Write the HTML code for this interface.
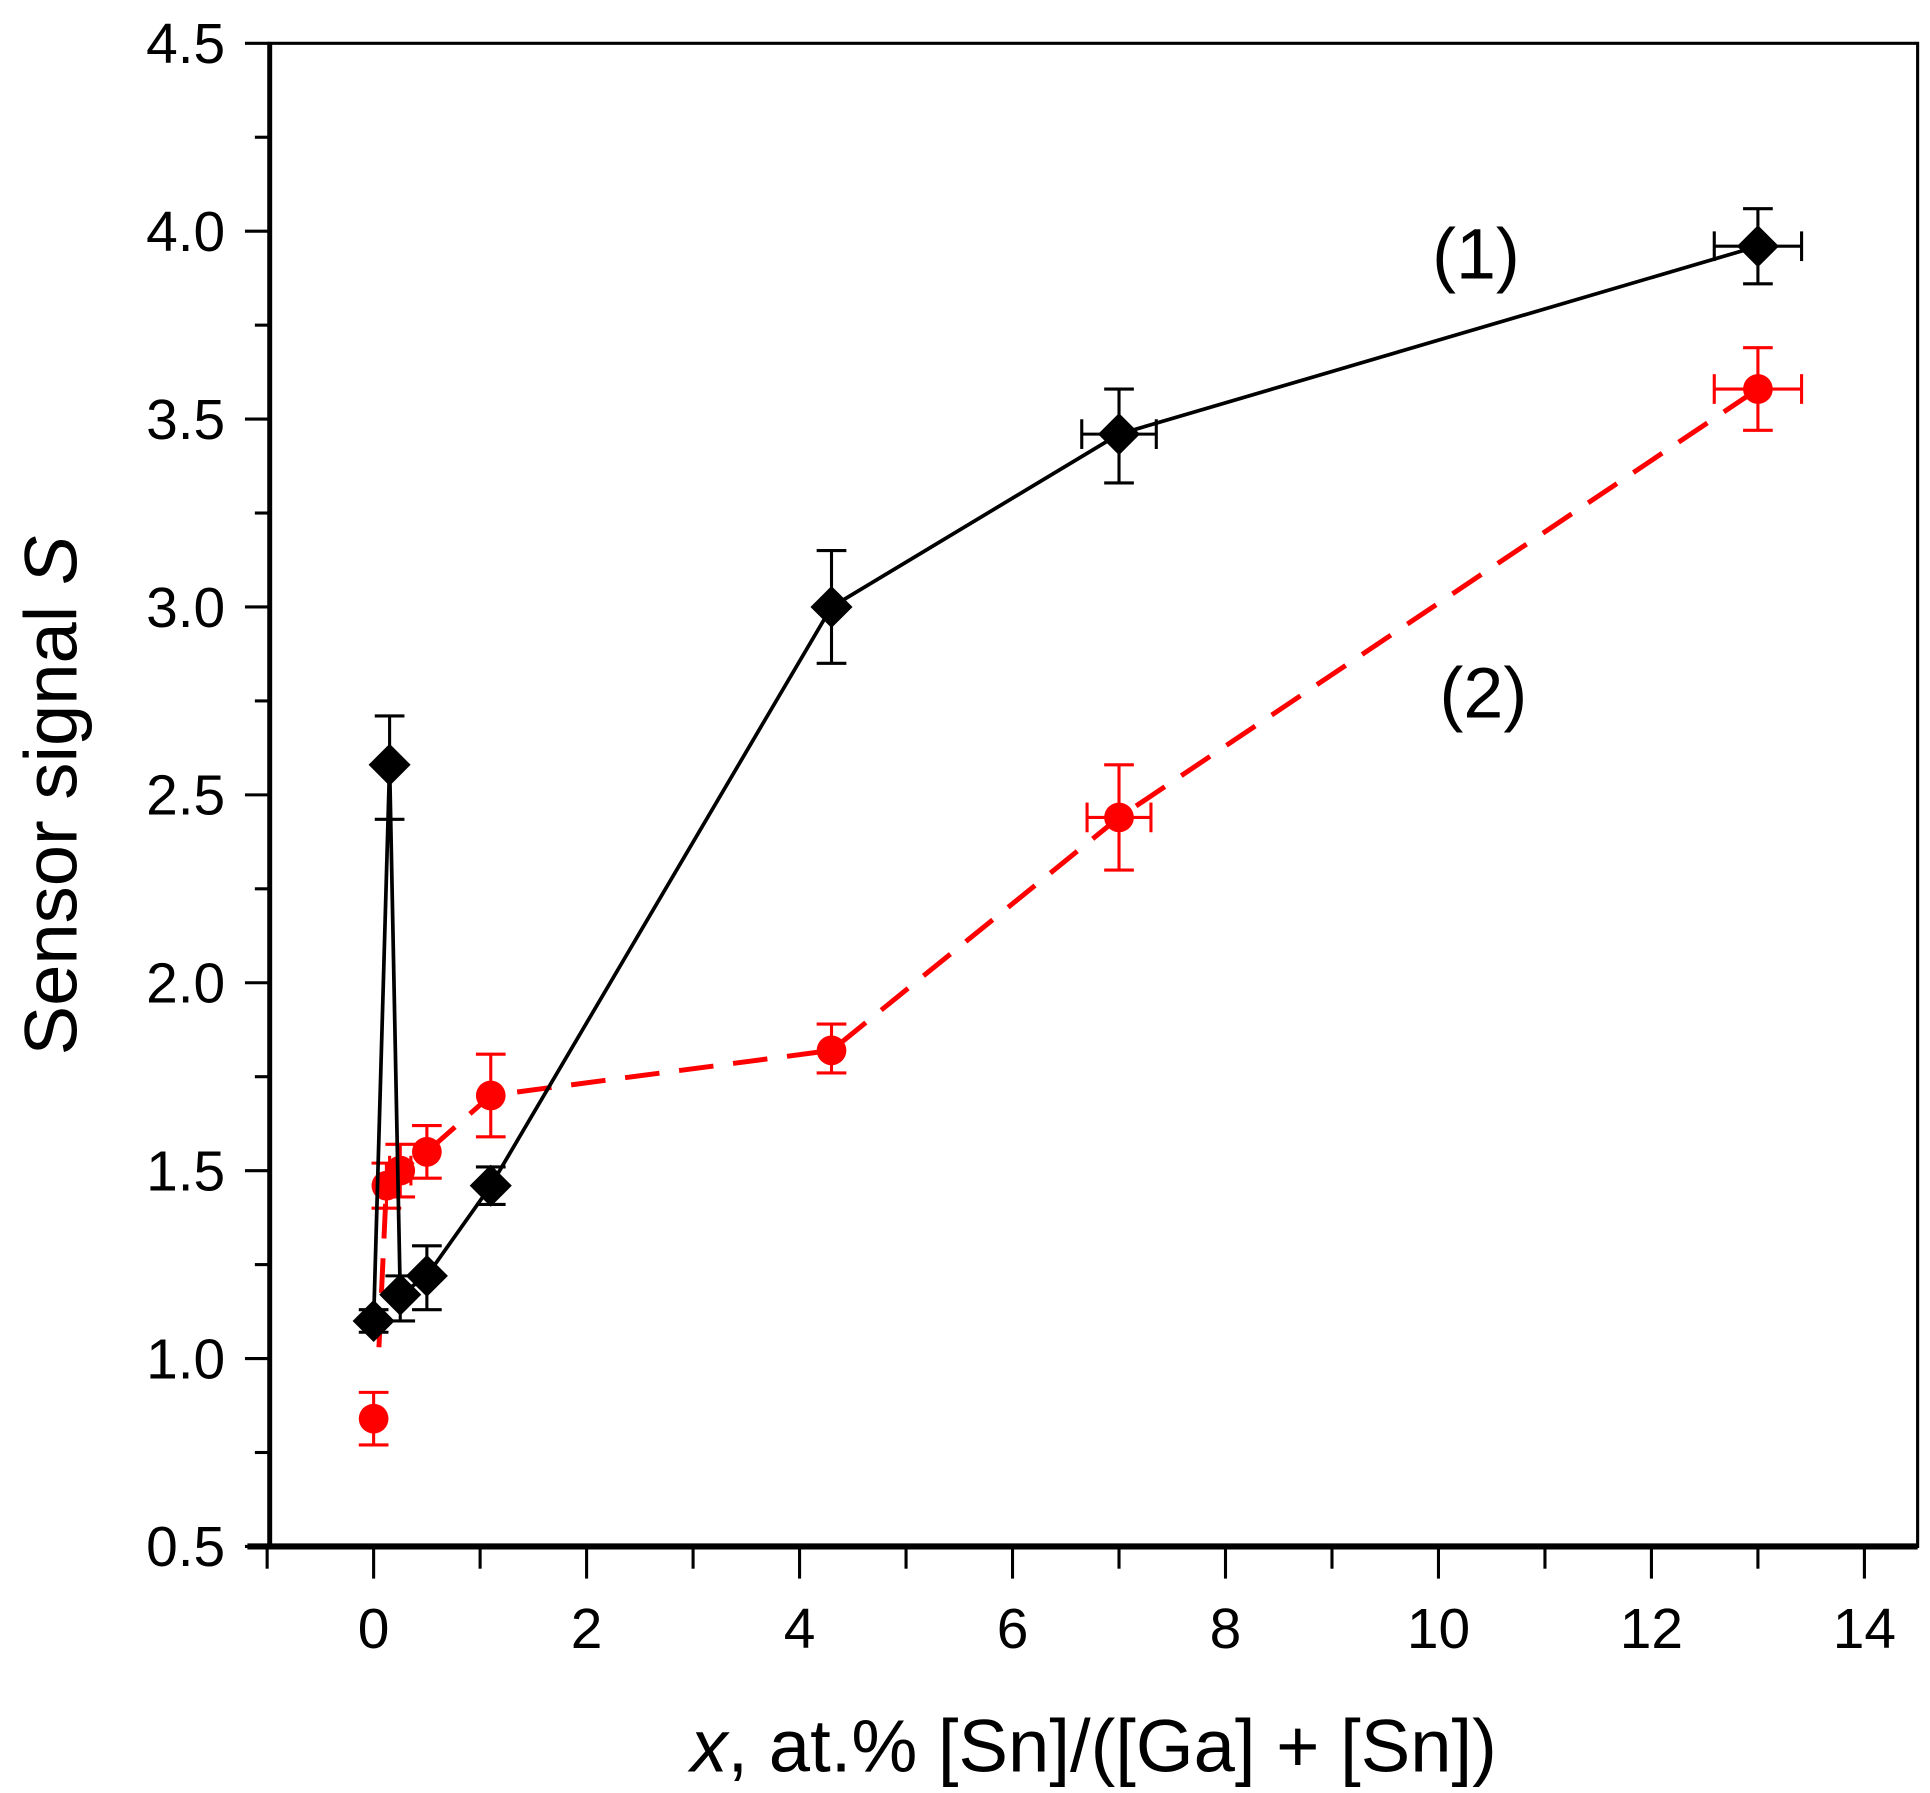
<!DOCTYPE html>
<html><head><meta charset="utf-8"><style>
html,body{margin:0;padding:0;background:#fff;}
svg{display:block;}
text{font-family:"Liberation Sans",Arial,sans-serif;fill:#000;}
</style></head><body>
<svg id="s" width="1930" height="1793" viewBox="0 0 1560 1449.3" preserveAspectRatio="none" xmlns="http://www.w3.org/2000/svg">
<rect x="218" y="35" width="1332" height="1215" fill="none" stroke="#000" stroke-width="2.5"/>
<line x1="200" y1="1250" x2="1550" y2="1250" stroke="#000" stroke-width="5"/>
<line x1="218" y1="35" x2="218" y2="1252" stroke="#000" stroke-width="4"/>
<g id="ticks"></g>
<g font-size="46" text-anchor="end" id="ylab"></g>
<g font-size="46" text-anchor="middle" id="xlab"></g>
<text x="0" y="0" font-size="60" text-anchor="middle" transform="translate(62,643) rotate(-90)">Sensor signal <tspan font-style="italic">S</tspan></text>
<text x="884" y="1432" font-size="60" text-anchor="middle"><tspan font-style="italic">x</tspan>, at.% [Sn]/([Ga] + [Sn])</text>
<text x="1193" y="225" font-size="58" text-anchor="middle">(1)</text>
<text x="1199" y="580" font-size="58" text-anchor="middle">(2)</text>
<g id="data"></g>
</svg>
<script>
var NS="http://www.w3.org/2000/svg";
function X(x){return 302+86.07*x;}
function Y(y){return 35+(4.5-y)*303.75;}
function el(p,t,a,txt){var e=document.createElementNS(NS,t);for(var k in a)e.setAttribute(k,a[k]);if(txt!=null)e.textContent=txt;document.getElementById(p).appendChild(e);return e;}
for(var i=0;i<=16;i++){var v=0.5+i*0.25,y=Y(v),maj=(i%2==0);
 el("ticks","line",{x1:maj?198:206,y1:y,x2:218,y2:y,stroke:"#000","stroke-width":2.5});
 if(maj)el("ylab","text",{x:182,y:y+16},v.toFixed(1));}
for(var i=-1;i<=14;i++){var x=X(i),maj=(i%2==0&&i>=0);
 el("ticks","line",{x1:x,y1:1250,x2:x,y2:maj?1276:1268,stroke:"#000","stroke-width":2.5});
 if(maj)el("xlab","text",{x:x,y:1332},String(i));}
var s1=[[0,1.1,1.13,1.07,0,0],[0.15,2.58,2.71,2.435,0,0],[0.25,1.17,1.22,1.1,0,0],[0.5,1.22,1.3,1.13,0,0],[1.1,1.46,1.51,1.41,0,0],[4.3,3.0,3.15,2.85,0,0],[7,3.46,3.58,3.33,0.35,0.35],[13,3.96,4.06,3.86,0.41,0.41]];
var s2=[[0,0.84,0.91,0.77,0,0],[0.12,1.46,1.52,1.40,0,0],[0.25,1.5,1.57,1.43,0.1,0.1],[0.5,1.55,1.62,1.48,0,0],[1.1,1.7,1.81,1.59,0,0],[4.3,1.82,1.89,1.76,0,0],[7,2.44,2.58,2.30,0.3,0.3],[13,3.58,3.69,3.47,0.41,0.41]];
function errs(s,c){s.forEach(function(p){var x=X(p[0]);
 el("data","line",{x1:x,y1:Y(p[2]),x2:x,y2:Y(p[3]),stroke:c,"stroke-width":2.5});
 el("data","line",{x1:x-12,y1:Y(p[2]),x2:x+12,y2:Y(p[2]),stroke:c,"stroke-width":2.5});
 el("data","line",{x1:x-12,y1:Y(p[3]),x2:x+12,y2:Y(p[3]),stroke:c,"stroke-width":2.5});
 if(p[4]){var a=X(p[0]-p[4]),b=X(p[0]+p[5]),y=Y(p[1]);
  el("data","line",{x1:a,y1:y,x2:b,y2:y,stroke:c,"stroke-width":2.5});
  el("data","line",{x1:a,y1:y-12,x2:a,y2:y+12,stroke:c,"stroke-width":2.5});
  el("data","line",{x1:b,y1:y-12,x2:b,y2:y+12,stroke:c,"stroke-width":2.5});}});}
errs(s2,"#f00");errs(s1,"#000");
var d2="M"+X(0.05)+","+Y(1.03)+" "+s2.slice(1).map(function(p){return "L"+X(p[0])+","+Y(p[1]);}).join(" ");
el("data","path",{d:d2,fill:"none",stroke:"#f00","stroke-width":4,"stroke-dasharray":"28,16"});
s2.forEach(function(p){el("data","circle",{cx:X(p[0]),cy:Y(p[1]),r:12,fill:"#f00"});});
var d1=s1.map(function(p,i){return (i?"L":"M")+X(p[0])+","+Y(p[1]);}).join(" ");
el("data","path",{d:d1,fill:"none",stroke:"#000","stroke-width":3});
s1.forEach(function(p){var x=X(p[0]),y=Y(p[1]);
 el("data","polygon",{points:(x-17)+","+y+" "+x+","+(y-17)+" "+(x+17)+","+y+" "+x+","+(y+17),fill:"#000"});});
</script>
</body></html>
